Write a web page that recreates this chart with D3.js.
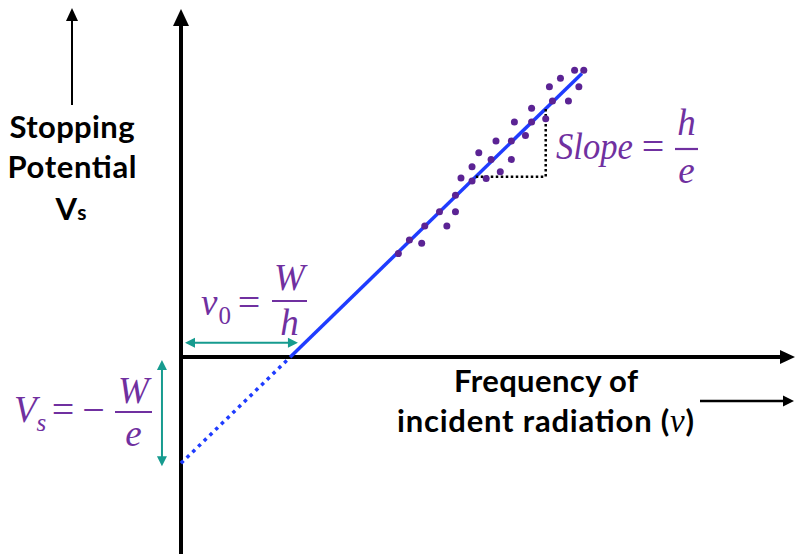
<!DOCTYPE html>
<html><head><meta charset="utf-8">
<script src="https://cdn.jsdelivr.net/npm/d3@7"></script>
<style>body{margin:0;background:#fff}svg{display:block}</style>
</head><body>
<script>
// ---------- data ----------
const freqDomain = [0, 10];
const voltDomain = [-3.2, 5.8];
const thresholdFreq = 1.78;   // nu0 (x-intercept)
const fitSlope = 0.97;        // h/e
const fitEnd = 6.53;
const obsFreq = [3.54,3.72,3.92,3.97,4.21,4.33,4.47,4.47,4.56,4.74,4.74,4.85,4.97,5.05,5.13,5.20,5.38,5.38,5.43,5.61,5.71,5.71,5.94,6.05,6.00,6.18,6.31,6.48,6.41,6.56];
const obsVolt = [1.68,1.90,1.85,2.13,2.36,2.13,2.36,2.63,2.91,2.86,3.09,3.32,2.90,3.21,3.51,3.01,3.51,3.21,3.82,3.60,4.04,3.82,3.87,4.16,4.39,4.53,4.16,4.39,4.66,4.66];
const triangleFreq = 5.94, triangleVolt = 2.93;
const yLabelLines = ["Stopping", "Potential"];
const xLabelLines = ["Frequency of", "incident radiation ("];

// ---------- setup ----------
const W = 795, H = 554;
const PURPLE = "#7030a0", DOT = "#5b2394", BLUE = "#1f3cff", TEAL = "#169b8f";
const x = d3.scaleLinear().domain(freqDomain).range([181, 795]);
const y = d3.scaleLinear().domain(voltDomain).range([554, 0]);
const fit = f => fitSlope * (f - thresholdFreq);

const svg = d3.select("body").append("svg").attr("width", W).attr("height", H);

function arrow(g, x1, y1, x2, y2, color, sw, hl, hw, both) {
  const a = Math.atan2(y2 - y1, x2 - x1), c = Math.cos(a), s = Math.sin(a);
  const head = (tx, ty, dir) => {
    const bx = tx - dir * c * hl, by = ty - dir * s * hl;
    g.append("path")
      .attr("d", `M${tx},${ty}L${bx - s * hw / 2},${by + c * hw / 2}L${bx + s * hw / 2},${by - c * hw / 2}Z`)
      .attr("fill", color);
  };
  const sx = both ? x1 + c * hl * 0.8 : x1, sy = both ? y1 + s * hl * 0.8 : y1;
  g.append("line").attr("x1", sx).attr("y1", sy)
    .attr("x2", x2 - c * hl * 0.8).attr("y2", y2 - s * hl * 0.8)
    .attr("stroke", color).attr("stroke-width", sw);
  head(x2, y2, 1);
  if (both) head(x1, y1, -1);
}

const g = svg.append("g");

// axes
arrow(g, x(0), H, x(0), 9, "#000", 4, 17, 16);
arrow(g, x(0) - 2, y(0), W, y(0), "#000", 4, 15, 14);

// fit line (dotted extrapolation + solid)
g.append("line")
  .attr("x1", x(0)).attr("y1", y(fit(0)))
  .attr("x2", x(thresholdFreq)).attr("y2", y(0))
  .attr("stroke", BLUE).attr("stroke-width", 3.5).attr("stroke-dasharray", "3.5,4.5");
g.append("line")
  .attr("x1", x(thresholdFreq)).attr("y1", y(0))
  .attr("x2", x(fitEnd)).attr("y2", y(fit(fitEnd)))
  .attr("stroke", BLUE).attr("stroke-width", 3.5);

// slope triangle
const triStart = triangleVolt / fitSlope + thresholdFreq;
g.append("path")
  .attr("d", d3.line()([[x(triStart), y(triangleVolt)], [x(triangleFreq), y(triangleVolt)], [x(triangleFreq), y(fit(triangleFreq))]]))
  .attr("fill", "none").attr("stroke", "#000").attr("stroke-width", 2.5).attr("stroke-dasharray", "2.5,2.5");

// data points
g.selectAll("circle.pt").data(obsFreq.map((f, i) => [f, obsVolt[i]])).join("circle")
  .attr("class", "pt").attr("cx", d => x(d[0])).attr("cy", d => y(d[1])).attr("r", 3.5).attr("fill", DOT);

// teal annotation arrows
arrow(g, x(0) + 4, y(0.23), x(1.905), y(0.23), TEAL, 2, 10, 10, true);
arrow(g, x(-0.31), y(-0.05), x(-0.31), y(fit(0)) + 3, TEAL, 2, 10, 10, true);

// ---------- labels ----------
const boldFont = "Lato, 'Open Sans', sans-serif";
const mf = "'Liberation Serif', 'DejaVu Serif', serif";
const yl = svg.append("g").attr("font-family", boldFont).attr("font-weight", "bold").attr("font-size", 31).attr("fill", "#000").attr("text-anchor", "middle");
yl.append("text").attr("x", 72).attr("y", 138).attr("textLength", 125).attr("lengthAdjust", "spacing").text(yLabelLines[0]);
yl.append("text").attr("x", 72).attr("y", 178).attr("textLength", 129).attr("lengthAdjust", "spacing").text(yLabelLines[1]);
const vs = yl.append("text").attr("x", 71).attr("y", 220);
vs.append("tspan").text("V");
vs.append("tspan").attr("font-size", 21).text("s");
arrow(svg, 72, 105, 72, 8, "#000", 2, 13, 12);

const xl = svg.append("g").attr("font-family", boldFont).attr("font-weight", "bold").attr("font-size", 31).attr("fill", "#000");
xl.append("text").attr("x", 546).attr("y", 392).attr("text-anchor", "middle").attr("textLength", 184).attr("lengthAdjust", "spacing").text(xLabelLines[0]);
const l2 = xl.append("text").attr("x", 397).attr("y", 432).attr("textLength", 297).attr("lengthAdjust", "spacing");
l2.append("tspan").text(xLabelLines[1]);
l2.append("tspan").attr("font-family", mf).attr("font-style", "italic").attr("font-weight", "normal").attr("font-size", 33).text("\u03BD");
l2.append("tspan").text(")");
arrow(svg, 700, 401, 794, 401, "#000", 2.5, 11, 11);

// math annotations
const m = svg.append("g").attr("font-family", mf).attr("fill", PURPLE).attr("font-size", 37);
function frac(cx, barY, halfW, num, den, numY, denY) {
  m.append("text").attr("x", cx).attr("y", numY).attr("text-anchor", "middle").attr("font-style", "italic").text(num);
  m.append("line").attr("x1", cx - halfW).attr("x2", cx + halfW).attr("y1", barY).attr("y2", barY).attr("stroke", PURPLE).attr("stroke-width", 2.2);
  m.append("text").attr("x", cx).attr("y", denY).attr("text-anchor", "middle").attr("font-style", "italic").text(den);
}
// Slope = h/e
m.append("text").attr("x", 556).attr("y", 159).attr("font-style", "italic").attr("textLength", 77).attr("lengthAdjust", "spacingAndGlyphs").text("Slope");
m.append("text").attr("x", 653).attr("y", 160).attr("text-anchor", "middle").attr("font-size", 40).text("=");
frac(686.5, 149, 11.5, "h", "e", 135, 183);
// nu0 = W/h
const nu = m.append("text").attr("x", 201).attr("y", 315);
nu.append("tspan").attr("font-style", "italic").text("\u03BD");
nu.append("tspan").attr("font-size", 25).attr("dy", 9).attr("dx", 1).text("0");
m.append("text").attr("x", 249).attr("y", 316).attr("text-anchor", "middle").attr("font-size", 40).text("=");
frac(289.5, 301, 17.5, "W", "h", 290, 335);
// Vs = -W/e
const v = m.append("text").attr("x", 14).attr("y", 422);
v.append("tspan").attr("font-style", "italic").text("V");
v.append("tspan").attr("font-style", "italic").attr("font-size", 25).attr("dy", 9).text("s");
m.append("text").attr("x", 63).attr("y", 423).attr("text-anchor", "middle").attr("font-size", 40).text("=");
m.append("text").attr("x", 93.5).attr("y", 423).attr("text-anchor", "middle").attr("font-size", 40).text("\u2212");
frac(133.5, 412, 18.5, "W", "e", 403, 446);
</script>
</body></html>
